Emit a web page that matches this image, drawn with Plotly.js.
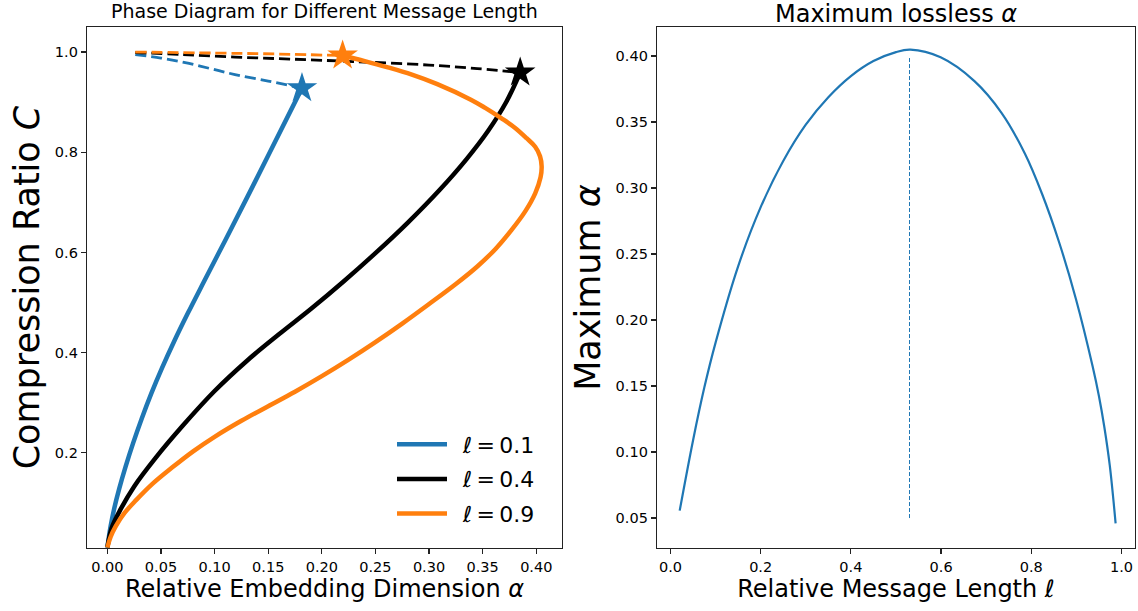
<!DOCTYPE html>
<html>
<head>
<meta charset="utf-8">
<script src="https://cdn.plot.ly/plotly-3.0.1.min.js"></script>
<style>html,body{margin:0;padding:0;background:#fff;}#plot{width:1138px;height:611px;}</style>
</head>
<body>
<div id="plot"></div>
<script>
// ---------- data ----------
// left panel: phase diagram, solid curves
const blueX  = [0, 0.003, 0.0065, 0.011, 0.017, 0.024, 0.032, 0.041, 0.051, 0.062, 0.075, 0.09, 0.11, 0.13, 0.15, 0.1815];
const blueY  = [0.011, 0.053, 0.0898, 0.128, 0.1724, 0.2193, 0.2681, 0.3185, 0.3695, 0.4212, 0.4784, 0.5414, 0.6244, 0.7084, 0.7934, 0.928];
const blackX = [0, 0.004, 0.012, 0.025, 0.045, 0.07, 0.1, 0.13, 0.16, 0.19, 0.22, 0.25, 0.28, 0.31, 0.335, 0.355, 0.372, 0.385];
const blackY = [0.011, 0.05, 0.086, 0.133, 0.19, 0.2535, 0.3234, 0.3834, 0.4365, 0.4875, 0.5415, 0.5985, 0.6591, 0.7251, 0.7864, 0.8424, 0.9002, 0.959];
const orangeX = [0, 0.003, 0.008, 0.016, 0.027, 0.042, 0.06, 0.08, 0.1, 0.125, 0.15, 0.175, 0.2, 0.225, 0.25, 0.275, 0.3, 0.325, 0.345, 0.362, 0.377, 0.39, 0.399, 0.404, 0.405, 0.4035, 0.399, 0.391, 0.380, 0.3673, 0.352, 0.339, 0.3077, 0.284, 0.2607, 0.24, 0.2194];
const orangeY = [0.011, 0.032, 0.054, 0.08, 0.106, 0.138, 0.17, 0.203, 0.232, 0.264, 0.293, 0.322, 0.353, 0.386, 0.421, 0.458, 0.497, 0.537, 0.572, 0.607, 0.645, 0.683, 0.718, 0.75, 0.772, 0.792, 0.811, 0.828, 0.849, 0.868, 0.889, 0.905, 0.936, 0.955, 0.970, 0.982, 0.993];
// left panel: dashed curves
const blueDashX  = [0.026, 0.05, 0.0726, 0.096, 0.119, 0.15, 0.1815];
const blueDashY  = [0.995, 0.988, 0.979, 0.967, 0.955, 0.942, 0.928];
const blackDashX = [0.026, 0.07, 0.119, 0.17, 0.229, 0.3, 0.345, 0.385];
const blackDashY = [0.999, 0.995, 0.990, 0.986, 0.981, 0.974, 0.967, 0.959];
const orangeDashX = [0.026, 0.1, 0.16, 0.2194];
const orangeDashY = [1.0, 0.998, 0.996, 0.993];
// left panel: star markers (end points)
const starX = [0.1815, 0.385, 0.2194];
const starY = [0.928, 0.959, 0.993];
const seriesNames = ['\u2002<i>ℓ</i>\u2009=\u20090.1', '\u2002<i>ℓ</i>\u2009=\u20090.4', '\u2002<i>ℓ</i>\u2009=\u20090.9'];

// right panel: maximum lossless alpha vs message length
const ellValues = [0.0204, 0.05, 0.075, 0.1, 0.15, 0.2, 0.25, 0.3, 0.35, 0.4, 0.45, 0.5, 0.532, 0.599, 0.674, 0.734, 0.786, 0.824, 0.861, 0.899, 0.936, 0.95, 0.962, 0.974, 0.987];
const alphaMax  = [0.0556, 0.1088, 0.1488, 0.1829, 0.2407, 0.2855, 0.3205, 0.3480, 0.3688, 0.3848, 0.3962, 0.4030, 0.4048, 0.399, 0.381, 0.357, 0.326, 0.2955, 0.2597, 0.216, 0.165, 0.1425, 0.119, 0.090, 0.046];
const peakEll = 0.53;
const peakLineY = [0.05, 0.40];

// tick values
const leftXTicks  = [0, 0.05, 0.1, 0.15, 0.2, 0.25, 0.3, 0.35, 0.4];
const leftYTicks  = [0.2, 0.4, 0.6, 0.8, 1.0];
const rightXTicks = [0, 0.2, 0.4, 0.6, 0.8, 1.0];
const rightYTicks = [0.05, 0.1, 0.15, 0.2, 0.25, 0.3, 0.35, 0.4];

// ---------- layout helpers ----------
const W = 1138, H = 611;
const fx = p => p / W;
const fy = p => 1 - p / H;
const BLUE = '#1f77b4', BLACK = '#000000', ORANGE = '#ff7f0e';
const FONT = 'DejaVu Sans, Liberation Sans, sans-serif';

function solid(x, y, c, name, g) {
  return {x, y, type: 'scatter', mode: 'lines', name, legendgroup: g,
    line: {color: c, width: 4.5, shape: 'spline', smoothing: 1}, xaxis: 'x', yaxis: 'y'};
}
function dashed(x, y, c) {
  return {x, y, type: 'scatter', mode: 'lines', showlegend: false,
    line: {color: c, width: 2.8, dash: '11px,5px', shape: 'spline', smoothing: 1}, xaxis: 'x', yaxis: 'y'};
}

const traces = [
  dashed(blueDashX, blueDashY, BLUE),
  dashed(blackDashX, blackDashY, BLACK),
  dashed(orangeDashX, orangeDashY, ORANGE),
  solid(blueX, blueY, BLUE, seriesNames[0], 'g1'),
  solid(blackX, blackY, BLACK, seriesNames[1], 'g2'),
  solid(orangeX, orangeY, ORANGE, seriesNames[2], 'g3'),
  {x: starX, y: starY, type: 'scatter', mode: 'markers', showlegend: false,
   marker: {symbol: 'star', size: 23, color: [BLUE, BLACK, ORANGE], line: {width: 0}}, xaxis: 'x', yaxis: 'y'},
  {x: ellValues, y: alphaMax, type: 'scatter', mode: 'lines', showlegend: false,
   line: {color: BLUE, width: 2.2, shape: 'spline', smoothing: 1}, xaxis: 'x2', yaxis: 'y2'},
  {x: [peakEll, peakEll], y: peakLineY, type: 'scatter', mode: 'lines', showlegend: false,
   line: {color: BLUE, width: 1, dash: '4px,2px'}, xaxis: 'x2', yaxis: 'y2'}
];

const axBase = {
  showgrid: false, zeroline: false, showline: true, mirror: true,
  linecolor: '#222', linewidth: 1.2, ticks: 'outside', ticklen: 5, tickwidth: 1.2,
  tickcolor: '#222', tickfont: {family: FONT, size: 14.5, color: '#000'}, automargin: false
};

const layout = {
  width: W, height: H, margin: {l: 0, r: 0, t: 0, b: 0},
  paper_bgcolor: '#fff', plot_bgcolor: '#fff',
  font: {family: FONT, color: '#000'},
  xaxis: Object.assign({}, axBase, {domain: [fx(87), fx(562)], range: [-0.019, 0.424],
    tickvals: leftXTicks, tickformat: '.2f',
    title: {text: 'Relative Embedding Dimension <i>α</i>', font: {family: FONT, size: 24}, standoff: 4}}),
  yaxis: Object.assign({}, axBase, {domain: [fy(548), fy(27)], range: [0.01, 1.05],
    tickvals: leftYTicks, tickformat: '.1f',
    title: {text: 'Compression Ratio <i>C</i>', font: {family: FONT, size: 35}, standoff: 4}}),
  xaxis2: Object.assign({}, axBase, {domain: [fx(657), fx(1135)], range: [-0.0299, 1.030],
    tickvals: rightXTicks, tickformat: '.1f', anchor: 'y2',
    title: {text: 'Relative Message Length <i>ℓ</i>', font: {family: FONT, size: 24}, standoff: 4}}),
  yaxis2: Object.assign({}, axBase, {domain: [fy(548), fy(27)], range: [0.0273, 0.422],
    tickvals: rightYTicks, tickformat: '.2f', anchor: 'x2',
    title: {text: 'Maximum <i>α</i>', font: {family: FONT, size: 35}, standoff: 4}}),
  showlegend: true,
  legend: {x: fx(392), y: fy(479), xanchor: 'left', yanchor: 'middle',
    bgcolor: 'rgba(255,255,255,0)', borderwidth: 0, font: {family: FONT, size: 22},
    traceorder: 'grouped', tracegroupgap: 3, itemwidth: 50},
  annotations: [
    {text: 'Phase Diagram for Different Message Length', xref: 'paper', yref: 'paper',
     x: fx(324.5), y: fy(11), xanchor: 'center', yanchor: 'middle', showarrow: false,
     font: {family: FONT, size: 19}},
    {text: 'Maximum lossless <i>α</i>', xref: 'paper', yref: 'paper',
     x: fx(896), y: fy(14), xanchor: 'center', yanchor: 'middle', showarrow: false,
     font: {family: FONT, size: 24}}
  ]
};

Plotly.newPlot('plot', traces, layout, {displayModeBar: false, staticPlot: true});
</script>
</body>
</html>
